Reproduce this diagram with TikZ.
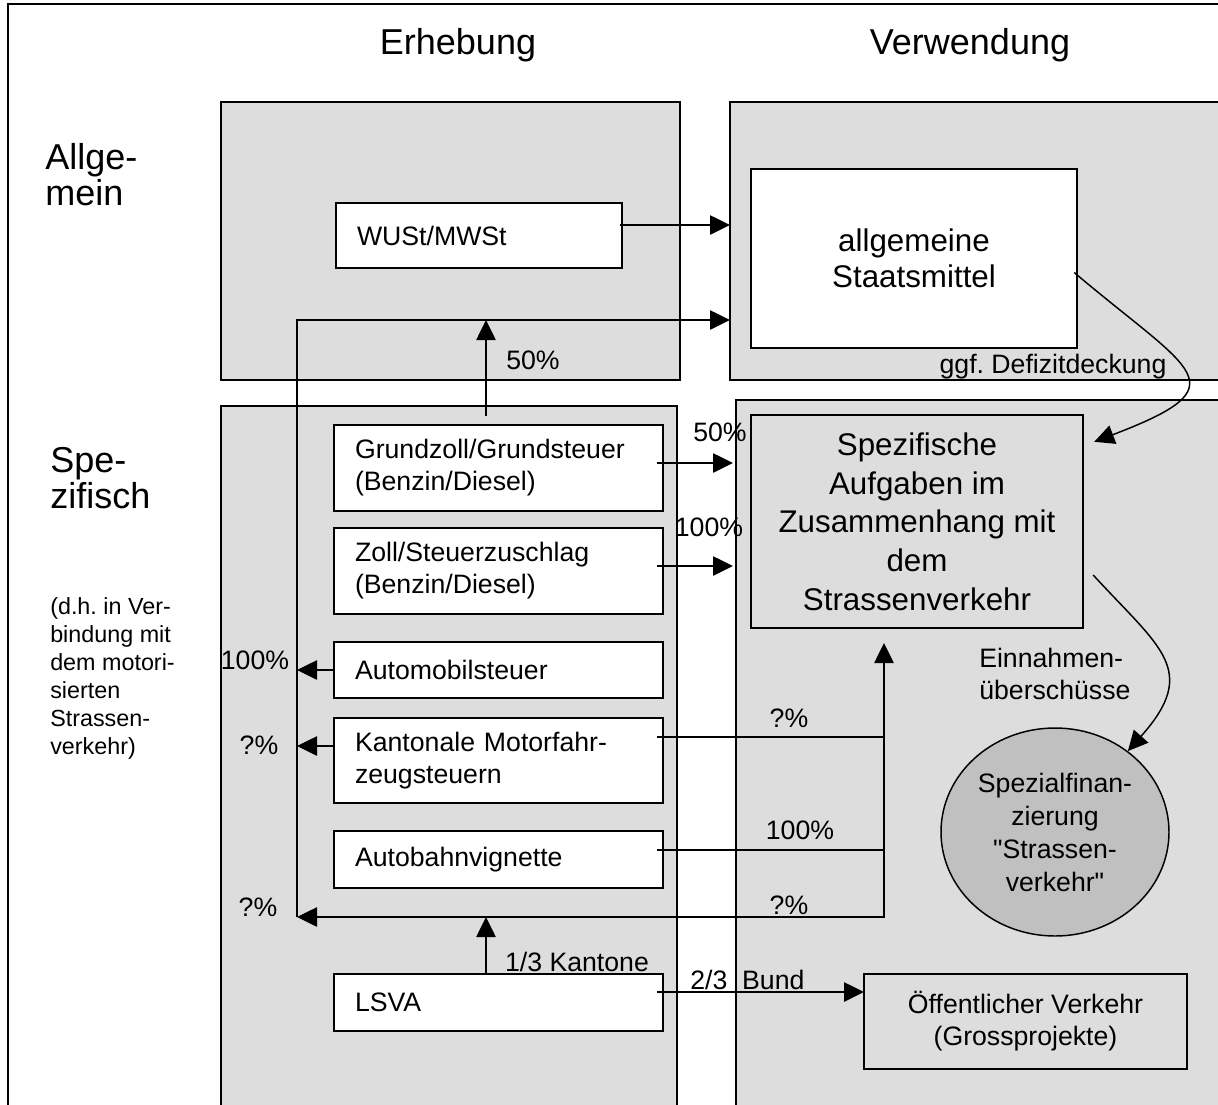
\documentclass[tikz,border=0pt]{standalone}
\usepackage{fontspec}
\setmainfont{Liberation Sans}[Ligatures=TeXOff]
\usetikzlibrary{arrows.meta,shapes.geometric,calc}
\definecolor{bgrey}{RGB}{221,221,221}
\definecolor{egrey}{RGB}{192,192,192}
\newcommand{\myfH}{\fontsize{27pt}{27pt}\selectfont}
\newcommand{\myfB}{\fontsize{23.5pt}{29pt}\selectfont}
\newcommand{\myfS}{\fontsize{23.5pt}{27pt}\selectfont}
\newcommand{\myfA}{\fontsize{20pt}{24pt}\selectfont}
\newcommand{\myfE}{\fontsize{20pt}{24.75pt}\selectfont}
\newcommand{\myfD}{\fontsize{17.5pt}{21pt}\selectfont}
\frenchspacing
\begin{document}
\begin{tikzpicture}[x=0.75pt,y=-0.75pt,
  panel/.style={draw=black,line width=1.2pt,fill=bgrey},
  txtbox/.style={draw=black,line width=1.2pt,fill=white,align=left,
    inner xsep=15.75pt,inner ysep=0pt,text width=215.25pt,font=\myfA},
  bigbox/.style={draw=black,line width=1.8pt,align=center,inner sep=0pt},
  conn/.style={line width=1.1pt},
  tip/.tip={Triangle[length=15pt,width=14.5pt]},
  arr/.style={conn,-tip},
  lbl/.style={font=\myfA,inner sep=0pt},
  hdr/.style={font=\myfH,inner sep=0pt,align=left}
]
\useasboundingbox (0,0) rectangle (1218,1104);
\clip (0,0) rectangle (1218,1104);
\fill[white] (0,0) rectangle (1218,1104);

% outer frame (cropped at right and bottom)
\draw[line width=1.1pt] (8,4) rectangle (1250,1140);

% panels
\draw[panel] (221,102) rectangle (680,380);
\draw[panel] (730,102) rectangle (1250,380);
\draw[panel] (221,406) rectangle (677,1140);
\draw[panel] (736,400) rectangle (1250,1140);

% headers
\node[hdr] (h1) at (458,45) {Erhebung};
\node[hdr] (h2) at (970,45) {Verwendung};
\node[hdr,anchor=west] (h3) at (45,175) {Allge-\\mein};
\node[hdr,anchor=west] (h4) at (50,478.5) {Spe-\\zifisch};
\node[font=\myfD,align=left,inner sep=0pt,anchor=west] (h5) at (50,678)
  {(d.h. in Ver-\\bindung mit\\dem motori-\\sierten\\Strassen-\\verkehr)};

% boxes
\node[txtbox,text width=183pt,minimum height=48.75pt] (wust) at (479,235.5) {WUSt/MWSt};
\node[bigbox,fill=white,font=\myfS,minimum width=244.5pt,minimum height=134.25pt] (staat) at (914,258.5) {allgemeine\\Staatsmittel};
\node[bigbox,fill=bgrey,font=\myfB,minimum width=249pt,minimum height=159.75pt] (spez) at (917,521.5) {Spezifische\\Aufgaben im\\Zusammenhang mit\\dem\\Strassenverkehr};
\node[txtbox,minimum height=64.5pt] (grund) at (498.5,468) {Grundzoll/Grundsteuer\\(Benzin/Diesel)};
\node[txtbox,minimum height=64.5pt] (zoll) at (498.5,571) {Zoll/Steuerzuschlag\\(Benzin/Diesel)};
\node[txtbox,minimum height=42pt] (auto) at (498.5,670) {Automobilsteuer};
\node[txtbox,minimum height=63.75pt] (kant) at (498.5,760.5) {Kantonale Motorfahr-\\zeugsteuern};
\node[txtbox,minimum height=42.75pt] (vign) at (498.5,859.5) {Autobahnvignette};
\node[txtbox,minimum height=42.75pt] (lsva) at (498.5,1002.5) {LSVA};
\node[draw=black,line width=1.2pt,align=center,inner sep=0pt,font=\myfA,
  minimum width=242.25pt,minimum height=71.25pt] (oev) at (1025.5,1021.5) {Öffentlicher Verkehr\\(Grossprojekte)};
\node[ellipse,draw=black,line width=1.1pt,fill=egrey,align=center,inner sep=0pt,font=\myfE,
  minimum width=171pt,minimum height=156pt] (spf) at (1055,832) {Spezialfinan-\\zierung\\"Strassen-\\verkehr"};

% coordinates for bus lines
\coordinate (lt) at (297,320);
\coordinate (lb) at (297,917);
\coordinate (rb) at (884,917);
\coordinate (rt) at (884,643);
\coordinate (trin) at (730,320);
\coordinate (win) at (730,225);
\coordinate (gin) at (733,463);
\coordinate (zin) at (733,566);
\coordinate (kr) at (884,737);
\coordinate (vr) at (884,850);
\coordinate (kl) at (297,746);
\coordinate (up) at (486,416);
\coordinate (oin) at (864,992);

% connectors
\draw[arr] ($(wust.east|-win)+(-3,0)$) -- (win);
\draw[arr] ($(grund.east|-gin)+(-7,0)$) -- (gin);
\draw[arr] ($(zoll.east|-zin)+(-7,0)$) -- (zin);
\draw[arr] (up) -- (up|-lt);
\draw[arr] (lb) -- (lt) -- (trin);
\draw[arr] (auto.west) -- (auto.west-|lt);
\draw[arr] (kant.west|-kl) -- (kl);
\draw[conn] ($(kant.east|-kr)+(-7,0)$) -- (kr);
\draw[conn] ($(vign.east|-vr)+(-7,0)$) -- (vr);
\draw[conn,tip-tip] (rt) -- (rb) -- (lb);
\draw[arr] (lsva.north-|up) -- (up|-lb);
\draw[arr] ($(lsva.east|-oin)+(-7,0)$) -- (oin);
\draw[arr] ($(staat.east)+(-4,14)$) .. controls (1193,373) and (1243,385) .. ($(spez.north east)+(10,28)$);
\draw[arr] ($(spez.east)+(9,53.5)$) .. controls (1160,648) and (1200,670) .. (spf.48);

% labels
\node[lbl] (p1) at (533,360) {50\%};
\node[lbl] (p2) at (720,432) {50\%};
\node[lbl] (p3) at (709,527) {100\%};
\node[lbl] (p4) at (255,660) {100\%};
\node[lbl] (p5) at (259,745) {?\%};
\node[lbl] (p6) at (258,907) {?\%};
\node[lbl] (p7) at (789,718) {?\%};
\node[lbl] (p8) at (800,830) {100\%};
\node[lbl] (p9) at (789,905) {?\%};
\node[lbl] (p10) at (577,962) {1/3 Kantone};
\node[lbl,anchor=west] (p11) at (690,980) {2/3\ \ Bund};
\node[lbl] (p12) at (1053,367) {ggf. Defizitdeckung};
\node[lbl,align=left,anchor=west] (p13) at (979,674) {Einnahmen-\\überschüsse};
\end{tikzpicture}
\end{document}
